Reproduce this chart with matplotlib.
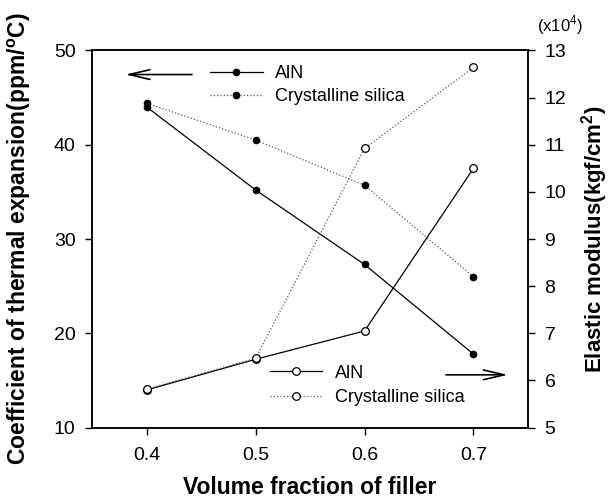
import matplotlib
matplotlib.use('Agg')
import matplotlib.pyplot as plt
import numpy as np

plt.rcParams['font.family'] = ['Liberation Sans', 'DejaVu Sans']
plt.rcParams['mathtext.fontset'] = 'custom'
plt.rcParams['mathtext.rm'] = 'Liberation Sans'
plt.rcParams['mathtext.bf'] = 'Liberation Sans:bold'

# volume fraction of filler
vol_frac = [0.4, 0.5, 0.6, 0.7]

# coefficient of thermal expansion (ppm/oC), left axis
cte_aln = [44.0, 35.2, 27.3, 17.8]
cte_silica = [44.4, 40.5, 35.7, 26.0]

# elastic modulus (x10^4 kgf/cm2), right axis
mod_aln = [5.8, 6.45, 7.05, 10.5]
mod_silica = [5.82, 6.47, 10.92, 12.64]

labels = ['AlN', 'Crystalline silica']

fig = plt.figure(figsize=(6.11, 4.99), dpi=100)
ax1 = fig.add_axes([0.151, 0.143, 0.713, 0.756])
ax2 = ax1.twinx()

# CTE, filled symbols
l1, = ax1.plot(vol_frac, cte_aln, '-', color='k', lw=0.9,
               marker='o', ms=4.5, mfc='k', mec='k')
l2, = ax1.plot(vol_frac, cte_silica, ':', color='0.35', lw=0.9,
               marker='o', ms=4.5, mfc='k', mec='k')

# modulus, open symbols
l3, = ax2.plot(vol_frac, mod_aln, '-', color='k', lw=0.9,
               marker='o', ms=5.5, mfc='white', mec='k', mew=0.9)
l4, = ax2.plot(vol_frac, mod_silica, ':', color='0.35', lw=0.9,
               marker='o', ms=5.5, mfc='white', mec='k', mew=0.9)

ax1.set_xlim(0.35, 0.75)
ax1.set_ylim(10, 50)
ax2.set_ylim(5, 13)
ax1.set_xticks(vol_frac)
ax1.set_yticks([10, 20, 30, 40, 50])
ax2.set_yticks(np.arange(5, 14, 1))

for ax in (ax1, ax2):
    ax.tick_params(direction='out', length=5, width=1, labelsize=14, pad=7)
    for sp in ax.spines.values():
        sp.set_linewidth(1.1)
ax1.tick_params(axis='x', pad=9)

ax1.set_xlabel('Volume fraction of filler', fontsize=16.5, fontweight='bold')
ax1.set_ylabel(r'Coefficient of thermal expansion(ppm/$\mathbf{^{o}}$C)',
               fontsize=16.5, fontweight='bold')
ax2.set_ylabel(r'Elastic modulus(kgf/cm$\mathbf{^{2}}$)',
               fontsize=16, fontweight='bold')
ax1.xaxis.set_label_coords(0.5, -0.128)
ax1.yaxis.set_label_coords(-0.135, 0.5)
ax2.yaxis.set_label_coords(1.117, 0.5)

ax2.text(1.073, 1.066, r'(x10$^{4}$)', transform=ax2.transAxes,
         fontsize=12, ha='center', va='center')

leg1 = ax2.legend([l1, l2], labels, loc='upper left',
                  bbox_to_anchor=(0.344, 0.870), bbox_transform=fig.transFigure,
                  frameon=False, fontsize=13, numpoints=1, handlelength=2.9,
                  handletextpad=0.7, labelspacing=0.35, borderpad=0,
                  borderaxespad=0)
ax2.add_artist(leg1)
ax2.legend([l3, l4], labels, loc='upper left',
           bbox_to_anchor=(0.442, 0.269), bbox_transform=fig.transFigure,
           frameon=False, fontsize=13, numpoints=1, handlelength=2.9,
           handletextpad=0.7, labelspacing=0.4, borderpad=0,
           borderaxespad=0)

arrow = dict(arrowstyle='->,head_length=1.5,head_width=0.35', color='k',
             lw=1.2, shrinkA=0, shrinkB=0)
ax1.annotate('', xy=(0.076, 0.936), xytext=(0.229, 0.936),
             xycoords='axes fraction', arrowprops=arrow)
ax1.annotate('', xy=(0.954, 0.14), xytext=(0.812, 0.14),
             xycoords='axes fraction', arrowprops=arrow)

fig.savefig('out.png', dpi=100)
